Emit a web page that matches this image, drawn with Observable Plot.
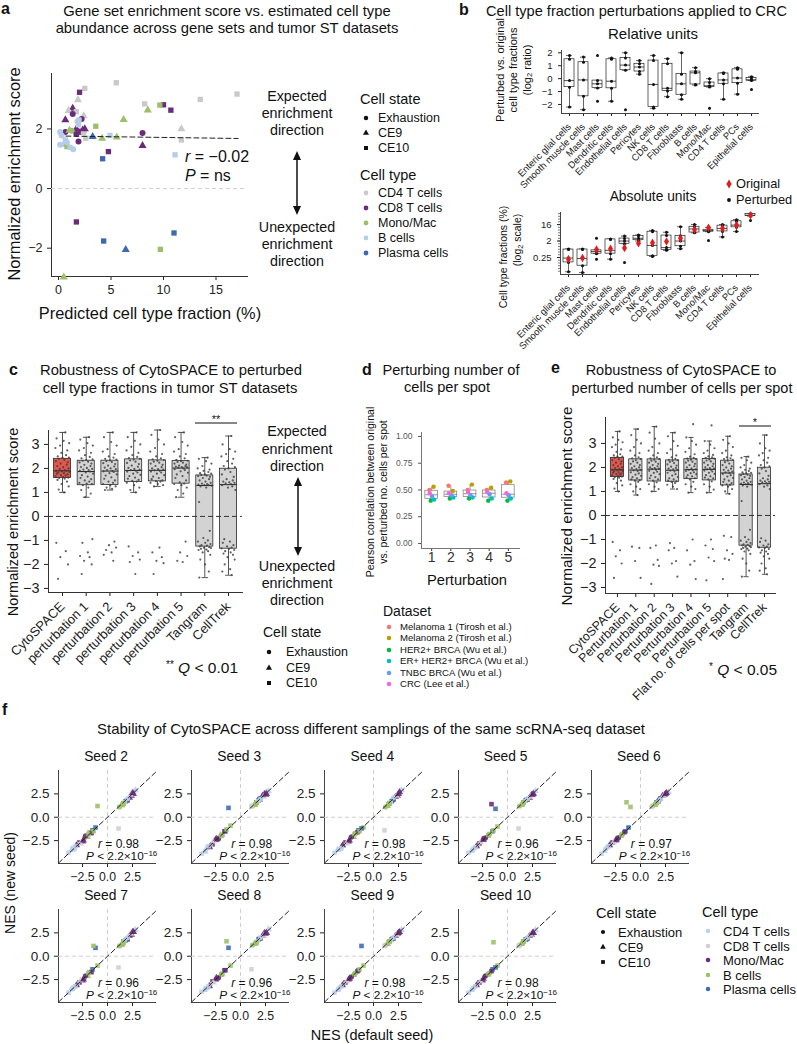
<!DOCTYPE html>
<html><head><meta charset="utf-8">
<script src="https://cdn.jsdelivr.net/npm/d3@7"></script>
<script src="https://cdn.jsdelivr.net/npm/@observablehq/plot@0.6"></script>
<style>
body{margin:0;background:#fff;}
#root{position:relative;width:797px;height:1044px;overflow:hidden;font-family:"Liberation Sans",Arial,Helvetica,sans-serif;color:#111;background:#fff;}
.t{position:absolute;white-space:nowrap;line-height:1;}
sup{font-size:0.68em;vertical-align:0.55em;line-height:0;}
sub{font-size:0.7em;vertical-align:-0.25em;line-height:0;}
</style></head><body><div id="root"></div><script>
// ---------------- DATA ----------------
const stateNames = ["Exhaustion","CE9","CE10"];
const stateSymbols = ["circle","triangle","square"];

// Panel a
const aTypeNames = ["CD4 T cells","CD8 T cells","Mono/Mac","B cells","Plasma cells"];
const aColors = ["#c9c9c9","#6b2b7b","#9dbf69","#b5cde9","#3d68b2"];
const aFrac = [5.5,2.5,2.0,17.0,13.5,1.85,8.2,10.0,9.65,10.7,8.5,1.35,0.95,1.7,1.35,2.4,2.2,0.65,6.2,1.8,1.95,3.55,11.7,8.0,0.65,0.15,1.7,2.3,1.25,1.7,2.05,0.3,1.9,4.15,5.55,3.25,4.9,2.6,11.7,8.0,0.15,0.55,0.8,0.65,1.4,1.1,4.2,4.75,11.1,1.7,4.3,6.4,9.7,11.0,0.5,1.9,2.4,0.8,1.05,2.5];
const aNES = [3.55,3.36,3.23,3.17,2.99,2.97,2.84,2.81,2.8,2.63,2.63,2.69,2.61,2.58,2.5,2.44,2.33,2.3,2.31,2.25,2.3,2.09,2.0,1.86,1.9,1.9,2.0,1.96,1.94,1.83,1.88,1.78,1.58,1.68,1.72,1.74,1.78,1.69,1.63,1.44,1.47,1.49,1.41,1.63,1.32,1.38,1.0,1.24,1.13,-1.12,-1.76,-2.05,-2.04,-1.49,-2.97,2.14,1.88,1.55,1.95,2.0];
const aType = [0,0,1,0,0,0,0,1,2,1,2,1,0,0,1,0,1,1,2,0,3,2,0,1,1,3,1,1,2,1,1,3,1,2,2,4,3,0,0,1,3,3,2,3,3,3,4,1,3,1,4,4,2,4,2,3,0,3,2,1];
const aState = [2,2,2,2,2,1,2,2,2,2,1,1,1,2,0,1,0,1,1,0,2,2,1,0,0,0,1,1,0,0,1,0,0,1,1,1,2,2,2,1,0,0,2,2,0,2,2,2,2,2,2,1,2,2,1,2,0,0,1,1];
const aFitX = [0.7,17.1];
const aFitY = [1.76,1.68];
const aXTicks = [0,5,10,15];
const aYTicks = [-2,0,2];

// Panel b
const bCats = ["Enteric glial cells","Smooth muscle cells","Mast cells","Dendritic cells","Endothelial cells","Pericytes","NK cells","CD8 T cells","Fibroblasts","B cells","Mono/Mac","CD4 T cells","PCs","Epithelial cells"];
const bRel = [
 [1.8,1.5,-0.15,-0.66,-2.2],[1.67,1.27,-0.1,-1.37,-2.4],[1.8,-0.15,-0.4,-0.73,-1.75],[1.6,1.5,-0.2,-0.75,-1.75],
 [2.0,1.6,1.05,0.65,-2.4],[1.4,1.15,0.9,0.55,0.35],[1.8,1.4,-0.45,-2.2,-2.3],[1.55,1.15,-0.75,-0.95,-1.4],
 [2.0,0.35,-0.4,-1.25,-1.6],[0.85,0.55,0.45,-0.45,-0.5],[0.0,-0.3,-0.55,-0.65,-2.3],[0.45,0.4,-0.1,-0.4,-1.6],
 [0.85,0.72,0.05,-0.35,-1.2],[0.15,0.05,-0.1,-0.15,-0.85]];
const bRelTicks = [-2,-1,0,1,2];
// absolute units, log2 of percent
const bAbsLog2 = [
 [-0.45,-0.55,-2.1,-2.9,-4.6],[-0.45,-0.55,-2.2,-3.5,-4.75],[1.5,-0.7,-0.9,-1.3,-2.3],[1.35,1.3,-0.7,-1.3,-2.3],
 [1.9,1.45,1.0,0.5,-2.9],[2.1,1.95,1.5,1.15,1.0],[2.9,2.7,0.2,-1.7,-1.8],[2.6,2.0,-0.2,-0.6,-0.7],
 [3.6,1.95,1.0,0.05,-0.4],[4.0,3.6,3.2,2.55,2.5],[3.5,3.05,2.9,2.7,1.1],[4.0,3.8,3.3,2.75,1.75],
 [4.9,4.6,3.9,3.5,2.75],[6.0,5.9,5.7,5.55,4.75]];
const bAbsOrigLog2 = [-2.3,-2.1,-0.55,-0.4,-0.25,0.6,0.7,0.9,1.5,3.05,3.4,3.3,3.9,5.7];
const bAbsTicks = [0.25,2,16];
const bAbsMinor = [0.044,0.0625,0.088,0.125,0.177,0.25,0.354,0.5,0.707,1,1.41,2,2.83,4,5.66,8,11.3,16,22.6,32,45.3,64];

// Panels c & e (normalized enrichment scores per method)
const cytoVals = [3.5,3.25,3.15,3.05,2.95,2.85,2.75,2.65,2.55,2.5,2.45,2.45,2.4,2.35,2.3,2.25,2.2,2.15,2.1,2.05,2.0,1.97,1.93,1.9,1.9,1.88,1.85,1.83,1.8,1.78,1.75,1.72,1.7,1.67,1.64,1.62,1.6,1.57,1.52,1.45,1.35,1.25,1.12,1.0,-1.1,-1.45,-1.7,-2.0,-2.6];
const tangramVals = [2.45,2.4,2.3,2.2,2.1,2.0,1.95,1.9,1.85,1.8,1.78,1.75,1.73,1.7,1.68,1.65,1.6,1.55,1.5,1.45,1.4,1.37,1.35,1.33,1.3,1.3,1.28,1.25,1.2,0.6,-0.6,-0.9,-1.0,-1.05,-1.1,-1.15,-1.2,-1.22,-1.25,-1.28,-1.3,-1.32,-1.35,-1.38,-1.4,-1.45,-1.5,-1.6,-1.8,-2.0,-2.3,-2.55];
const celltrekVals = [3.35,3.0,2.8,2.7,2.6,2.5,2.4,2.3,2.2,2.1,2.05,2.0,1.95,1.85,1.75,1.65,1.55,1.5,1.45,1.42,1.4,1.38,1.35,1.3,1.25,1.2,1.1,-0.95,-1.05,-1.1,-1.2,-1.25,-1.3,-1.33,-1.35,-1.4,-1.45,-1.5,-1.55,-1.6,-1.7,-1.8,-2.0,-2.2,-2.3,-2.45];
const cP1 = [3.3,3.2,3.05,2.95,2.85,2.75,2.65,2.55,2.48,2.42,2.38,2.35,2.32,2.28,2.25,2.2,2.15,2.1,2.06,2.02,1.98,1.95,1.93,1.9,1.87,1.83,1.78,1.72,1.66,1.6,1.55,1.5,1.45,1.4,1.37,1.35,1.3,1.2,1.1,0.95,0.8,-0.95,-1.1,-1.5,-1.65,-1.7,-1.85,-2.0,-2.4];
const cP2 = [3.5,3.3,3.1,2.95,2.8,2.7,2.6,2.5,2.45,2.4,2.37,2.33,2.3,2.27,2.22,2.18,2.12,2.08,2.03,2.0,1.97,1.93,1.9,1.88,1.85,1.8,1.75,1.7,1.63,1.57,1.5,1.45,1.4,1.35,1.3,1.25,1.2,1.15,1.1,-1.05,-1.2,-1.3,-1.4,-1.5,-1.6,-1.85];
const cP3 = [3.5,3.3,3.15,3.0,2.9,2.75,2.65,2.55,2.48,2.43,2.4,2.37,2.33,2.28,2.23,2.18,2.12,2.07,2.02,1.98,1.95,1.93,1.9,1.87,1.83,1.78,1.73,1.68,1.62,1.57,1.52,1.48,1.45,1.4,1.3,1.2,1.1,1.0,-1.25,-1.5,-1.65,-1.8,-1.9,-2.4];
const cP4 = [3.6,3.4,3.2,3.0,2.85,2.7,2.6,2.5,2.42,2.38,2.35,2.32,2.28,2.24,2.2,2.15,2.1,2.05,2.0,1.97,1.95,1.92,1.9,1.87,1.83,1.78,1.72,1.66,1.6,1.55,1.5,1.47,1.45,1.4,1.35,1.3,1.25,-1.3,-1.5,-1.7,-1.85,-1.95,-2.4];
const cP5 = [3.5,3.3,3.1,2.95,2.8,2.7,2.6,2.5,2.42,2.36,2.32,2.3,2.27,2.24,2.2,2.16,2.12,2.1,2.08,2.06,2.05,2.03,2.0,1.97,1.93,1.88,1.82,1.75,1.68,1.6,1.5,1.42,1.37,1.35,1.3,1.2,1.1,0.95,0.8,-1.05,-1.5,-1.65,-1.85,-1.9];
const eP1 = [3.6,3.35,3.15,3.0,2.85,2.7,2.6,2.5,2.42,2.38,2.35,2.3,2.25,2.2,2.15,2.1,2.05,2.0,1.97,1.93,1.9,1.88,1.85,1.8,1.75,1.7,1.65,1.6,1.55,1.5,1.47,1.45,1.4,1.3,1.2,1.1,1.0,0.85,-1.3,-1.35,-1.9,-2.6];
const eP2 = [3.7,3.45,3.2,3.0,2.85,2.7,2.6,2.5,2.42,2.38,2.35,2.32,2.28,2.24,2.2,2.15,2.1,2.05,2.0,1.97,1.95,1.93,1.9,1.86,1.82,1.77,1.72,1.66,1.6,1.55,1.5,1.45,1.38,1.3,1.2,1.1,1.0,-1.25,-1.35,-1.85,-2.05,-2.1,-2.85];
const eP3 = [3.45,3.3,3.1,2.9,2.75,2.6,2.5,2.42,2.36,2.32,2.3,2.27,2.23,2.18,2.13,2.08,2.03,1.98,1.95,1.92,1.9,1.87,1.83,1.78,1.72,1.66,1.6,1.55,1.5,1.45,1.42,1.4,1.35,1.28,1.2,1.1,-1.15,-1.35,-1.45,-1.9,-2.0,-2.55];
const eP4 = [3.8,3.25,3.1,2.95,2.8,2.65,2.55,2.45,2.4,2.37,2.35,2.32,2.28,2.24,2.2,2.15,2.1,2.05,2.0,1.96,1.92,1.9,1.88,1.85,1.8,1.76,1.72,1.68,1.63,1.58,1.55,1.5,1.4,1.3,1.2,1.1,0.95,-1.0,-1.45,-1.9,-2.05,-2.65];
const eP5 = [3.75,3.1,2.95,2.8,2.7,2.6,2.52,2.46,2.42,2.4,2.37,2.33,2.29,2.25,2.2,2.15,2.1,2.05,2.0,1.97,1.95,1.92,1.9,1.87,1.83,1.78,1.73,1.68,1.63,1.58,1.55,1.5,1.42,1.3,1.2,1.08,0.95,-1.0,-1.25,-1.4,-1.75,-1.9,-2.7];
const eFlat = [3.3,3.15,3.0,2.85,2.7,2.6,2.5,2.42,2.38,2.35,2.32,2.28,2.22,2.16,2.1,2.05,2.0,1.95,1.9,1.87,1.83,1.8,1.77,1.73,1.68,1.62,1.56,1.5,1.45,1.4,1.35,1.3,1.27,1.25,1.2,1.1,1.0,0.9,-0.85,-0.9,-1.45,-1.6,-1.8,-1.85,-2.65];
const jitter = [0.12,-0.25,0.05,0.28,-0.1,-0.3,0.2,-0.05,0.15,-0.2,0.27,0.0,-0.15,0.08,-0.28,0.22,-0.08,0.18,-0.22,0.03,0.25,-0.12,0.1,-0.27,0.16,-0.02,0.29,-0.18,0.06,-0.24,0.21,-0.06,0.13,-0.29,0.02,0.24,-0.14,0.09,-0.21,0.19,-0.04,0.26,-0.16,0.07,-0.26,0.14,-0.09,0.23,-0.19,0.01,0.17,-0.23,0.11,-0.11];
const cNames = ["CytoSPACE","perturbation 1","perturbation 2","perturbation 3","perturbation 4","perturbation 5","Tangram","CellTrek"];
const eNames = ["CytoSPACE","Perturbation 1","Perturbation 2","Perturbation 3","Perturbation 4","Perturbation 5","Flat no. of cells per spot","Tangram","CellTrek"];
const nesTicks = [-3,-2,-1,0,1,2,3];

// Panel d
const dDatasets = ["Melanoma 1 (Tirosh et al.)","Melanoma 2 (Tirosh et al.)","HER2+ BRCA (Wu et al.)","ER+ HER2+ BRCA (Wu et al.)","TNBC BRCA (Wu et al.)","CRC (Lee et al.)"];
const dColors = ["#F8766D","#B79F00","#00BA38","#00BFC4","#619CFF","#F564E3"];
const dVals = [
 [0.50,0.53,0.40,0.41,0.44,0.47],
 [0.54,0.49,0.42,0.43,0.45,0.47],
 [0.50,0.55,0.42,0.43,0.45,0.48],
 [0.50,0.52,0.40,0.42,0.46,0.48],
 [0.57,0.58,0.40,0.42,0.45,0.47]];
const dJitter = [-0.12,0.1,-0.05,0.13,0.02,-0.1];
const dYTicks = [0,0.25,0.5,0.75,1];
const dXTicks = [1,2,3,4,5];

// Panel f
const fTypeNames = ["CD4 T cells","CD8 T cells","Mono/Mac","B cells","Plasma cells"];
const fColors = ["#bcd2ea","#d0d0d0","#6b2b7b","#9dc06b","#3e6db4"];
const fX = [2.8,2.6,2.4,2.2,2.6,2.0,1.8,1.6,1.9,1.5,1.4,1.7,2.3,1.2,2.0,1.1,-1.0,-1.2,-1.5,-1.8,-2.0,-2.3,-2.5,-2.8,-2.2,-3.0,-3.3,-3.6,-3.9,-2.7,-1.6,-3.1,-1.4,-3.5,-3.2,2.5,-2.4,-1.9,1.6];
const fType = [0,0,2,2,2,2,4,4,4,3,3,1,1,3,0,1,3,4,4,3,3,3,2,2,2,1,0,0,0,1,2,2,3,0,0,2,2,3,3];
const fState = [1,1,1,1,1,2,2,2,0,2,1,0,1,0,0,2,2,2,2,2,1,0,1,2,0,2,0,1,2,1,2,1,2,0,2,1,1,2,2];
const fSeeds = ["Seed 2","Seed 3","Seed 4","Seed 5","Seed 6","Seed 7","Seed 8","Seed 9","Seed 10"];
const fR = ["0.98","0.98","0.98","0.96","0.97","0.96","0.96","0.98","0.98"];
const fY = [
 [2.9,2.7,2.3,2.1,2.5,1.8,1.7,1.5,1.8,1.3,1.3,1.6,2.4,1.1,2.0,-1.2,1.2,-1.1,-1.4,-1.6,-2.1,-2.2,-2.6,-2.7,-2.0,-2.9,-3.4,-3.5,-3.8,-2.8,-1.7,-3.0,-1.5,-3.3,-3.1,2.6,-2.5,-1.8,1.5],
 [2.8,2.7,2.5,2.3,2.5,1.9,1.8,1.6,2.0,1.4,1.3,1.7,2.2,1.2,1.9,1.2,-0.9,1.0,-1.5,-1.9,-1.9,-2.4,-2.4,-2.9,-2.3,-3.1,-3.2,-3.7,-3.9,-2.6,-1.5,-3.2,-1.3,-3.6,-3.1,2.4,-2.3,-2.0,1.5],
 [2.9,2.6,2.3,2.2,2.7,1.9,1.7,1.5,1.8,1.4,1.2,1.6,2.3,1.1,2.1,-1.4,-1.1,-1.2,-1.4,-1.7,-2.1,-2.2,-2.6,-2.7,-2.1,-3.0,-3.4,-3.5,-3.8,-2.8,-1.6,-3.0,-1.5,-3.4,-3.3,2.5,-2.5,-1.8,1.5],
 [2.8,2.6,2.4,2.1,2.5,1.9,1.8,1.6,1.9,1.4,1.3,1.7,2.2,1.2,2.0,-1.2,-1.0,0.9,-1.5,-1.8,-2.0,-2.3,-2.4,-2.8,-2.2,-3.1,-3.3,-3.6,-3.8,-2.7,1.4,-3.1,-1.4,-3.5,-3.2,2.4,-2.4,-1.9,1.6],
 [2.7,2.6,2.4,2.3,2.6,2.0,1.7,1.6,1.9,1.4,1.3,1.6,2.3,1.2,1.9,1.1,1.1,-1.1,-1.5,-1.8,-2.0,-2.2,-2.5,-2.7,-2.2,-3.0,-3.2,-3.6,-3.9,-2.7,-1.6,-3.0,1.6,-3.4,-3.1,2.5,-2.4,-1.9,1.5],
 [2.8,2.7,2.3,2.2,2.6,1.8,1.7,1.6,1.8,1.3,1.2,1.7,2.4,1.1,2.0,-1.2,-1.0,0.9,-1.4,-1.7,-2.1,-2.3,-2.6,-2.8,-2.1,-3.0,-3.3,-3.5,-3.9,-2.6,-1.7,-3.1,1.1,-3.5,-3.2,2.6,-2.5,-1.8,1.4],
 [2.9,2.6,2.5,2.2,2.5,1.9,1.8,1.5,1.9,1.4,1.3,1.6,2.2,1.2,2.0,-1.4,-1.0,0.9,-1.5,-1.9,-2.0,-2.4,-2.5,-2.7,-2.3,-3.0,-3.4,-3.6,-3.8,-2.8,-1.5,-3.2,1.6,-3.4,-3.2,2.4,-2.3,-1.9,1.5],
 [2.8,2.6,2.4,2.2,2.6,1.9,1.8,1.6,1.9,1.5,1.3,1.7,2.3,1.2,2.0,1.1,-1.0,1.1,-1.5,-1.8,-2.0,-2.3,-2.5,-2.8,-2.2,-3.0,-3.3,-3.6,-3.9,-2.7,-1.6,-3.1,-1.4,-3.5,-3.2,2.5,-2.4,-1.9,1.6],
 [2.8,2.6,2.3,2.2,2.5,1.9,1.8,1.6,1.8,1.4,1.3,1.7,2.3,1.2,2.0,1.1,-1.0,-1.2,-1.4,-1.8,-2.0,-2.2,-2.6,-2.8,-2.1,-3.0,-3.3,-3.6,-3.9,-2.7,-1.6,-3.1,1.5,-3.5,-3.2,2.5,-2.4,-1.9,1.6]];
const fTicks = [-2.5,0,2.5];
const fDomain = [-4.9,4.8];

// ---------------- HELPERS ----------------
const FONT = "'Liberation Sans', Arial, Helvetica, sans-serif";
const fmtInt = d3.format("d");
const root = document.getElementById("root");
function put(el, x, y){ el.style.position="absolute"; el.style.left=x+"px"; el.style.top=y+"px"; root.appendChild(el); }
function txt(s, x, y, o={}){
  const d=document.createElement("div"); d.className="t"; d.innerHTML=s;
  d.style.left=x+"px"; d.style.top=y+"px"; d.style.fontSize=(o.size||14)+"px";
  if(o.bold) d.style.fontWeight="bold"; if(o.color) d.style.color=o.color;
  const ax = o.anchor==="start"?"0%":o.anchor==="end"?"-100%":"-50%";
  d.style.transform=`translate(${ax},-50%)`+(o.rotate?` rotate(${o.rotate}deg)`:"");
  root.appendChild(d);
}
const symMap = {circle:d3.symbolCircle, triangle:d3.symbolTriangle, square:d3.symbolSquare, diamond:d3.symbolDiamond};
function sym(type, x, y, color, size){
  const s=d3.create("svg").attr("width",14).attr("height",14).style("position","absolute").style("left",(x-7)+"px").style("top",(y-7)+"px");
  s.append("path").attr("transform","translate(7,7)").attr("d",d3.symbol(symMap[type],size)()).attr("fill",color);
  root.appendChild(s.node());
}
const stats = vals => {
  const s = vals.slice().sort(d3.ascending);
  const q1=d3.quantileSorted(s,0.25), med=d3.quantileSorted(s,0.5), q3=d3.quantileSorted(s,0.75), iqr=q3-q1;
  return {q1, med, q3, lo:d3.min(s.filter(v=>v>=q1-1.5*iqr)), hi:d3.max(s.filter(v=>v<=q3+1.5*iqr))};
};
function boxMarks(st, o){
  const m = [
    Plot.ruleX(st,{x:"i", y1:"lo", y2:"q1", stroke:o.stroke, strokeWidth:o.sw}),
    Plot.ruleX(st,{x:"i", y1:"q3", y2:"hi", stroke:o.stroke, strokeWidth:o.sw})];
  if(o.cap){
    m.push(Plot.link(st,{x1:d=>d.i-o.cap, x2:d=>d.i+o.cap, y1:"lo", y2:"lo", stroke:o.stroke, strokeWidth:o.sw}));
    m.push(Plot.link(st,{x1:d=>d.i-o.cap, x2:d=>d.i+o.cap, y1:"hi", y2:"hi", stroke:o.stroke, strokeWidth:o.sw}));
  }
  m.push(Plot.rect(st,{x1:d=>d.i-o.hw, x2:d=>d.i+o.hw, y1:"q1", y2:"q3", fill:"fill", stroke:o.stroke, strokeWidth:o.sw}));
  m.push(Plot.link(st,{x1:d=>d.i-o.hw, x2:d=>d.i+o.hw, y1:"med", y2:"med", stroke:o.stroke, strokeWidth:o.sw*1.3}));
  return m;
}
const baseStyle = (fs, color="#222") => ({fontFamily:FONT, fontSize:fs+"px", color, background:"none", overflow:"visible"});
const ov = d3.create("svg").attr("width",797).attr("height",1044).style("position","absolute").style("left","0").style("top","0").style("pointer-events","none");
function arrow(x,y1,y2){
  ov.append("line").attr("x1",x).attr("x2",x).attr("y1",y1+5).attr("y2",y2-5).attr("stroke","#111").attr("stroke-width",1.5);
  ov.append("path").attr("d",`M${x-4},${y1+9}L${x},${y1}L${x+4},${y1+9}Z`).attr("fill","#111");
  ov.append("path").attr("d",`M${x-4},${y2-9}L${x},${y2}L${x+4},${y2-9}Z`).attr("fill","#111");
}
function hline(x1,x2,y){ ov.append("line").attr("x1",x1).attr("x2",x2).attr("y1",y).attr("y2",y).attr("stroke","#111").attr("stroke-width",1); }

// ---------------- PANEL A ----------------
const aData = aFrac.map((v,i)=>({x:v, y:aNES[i], type:aTypeNames[aType[i]], state:stateNames[aState[i]]}));
const aFit = aFitX.map((v,i)=>({x:v, y:aFitY[i]}));
put(Plot.plot({
  width:260, height:240, marginLeft:51, marginRight:13, marginTop:13, marginBottom:24,
  style:baseStyle(12.5), x:{domain:[-0.67,18], label:null}, y:{domain:[-2.95,3.86], label:null},
  color:{domain:aTypeNames, range:aColors}, symbol:{domain:stateNames, range:stateSymbols},
  marks:[
    Plot.axisX({ticks:aXTicks, tickFormat:fmtInt, tickSize:4, fontSize:12.5}),
    Plot.axisY({ticks:aYTicks, tickFormat:fmtInt, tickSize:4, fontSize:12.5}),
    Plot.frame({anchor:"left", stroke:"#333"}), Plot.frame({anchor:"bottom", stroke:"#333"}),
    Plot.ruleY([0],{stroke:"#cfcfcf", strokeDasharray:"4,3"}),
    Plot.dot(aData,{x:"x", y:"y", fill:"type", symbol:"state", r:3}),
    Plot.line(aFit,{x:"x", y:"y", stroke:"#222", strokeDasharray:"5,3", strokeWidth:1})
  ]}), 0, 60);
txt("a", 1, 9, {bold:true, size:16, anchor:"start"});
txt("Gene set enrichment score vs. estimated cell type", 227, 11, {size:14.8});
txt("abundance across gene sets and tumor ST datasets", 227, 28, {size:14.8});
txt("Normalized enrichment score", 14, 174, {size:16.4, rotate:-90});
txt("Predicted cell type fraction (%)", 150, 313, {size:16.4});
txt("<i>r</i> = −0.02", 185, 157, {size:16, anchor:"start"});
txt("<i>P</i> = ns", 185, 176, {size:16, anchor:"start"});
["Expected","enrichment","direction"].forEach((s,i)=>txt(s, 297, 96+17*i, {size:14.3}));
arrow(297, 151, 215);
["Unexpected","enrichment","direction"].forEach((s,i)=>txt(s, 297, 227+17*i, {size:14.3}));
txt("Cell state", 360, 99, {size:14.5, anchor:"start"});
stateNames.forEach((s,i)=>{ sym(stateSymbols[i], 366, 118+15*i, "#111", 16); txt(s, 378, 118+15*i, {size:12.5, anchor:"start"}); });
txt("Cell type", 360, 175, {size:14.5, anchor:"start"});
aTypeNames.forEach((s,i)=>{ sym("circle", 366, 193+15*i, aColors[i], 18); txt(s, 378, 193+15*i, {size:12.5, anchor:"start"}); });

// ---------------- PANEL B ----------------
const bRelData = bCats.flatMap((c,i)=>bRel[i].map(v=>({cat:c, v})));
const bRelStats = bCats.map((c,i)=>({cat:c, ...stats(bRel[i])}));
const bX = {domain:bCats, type:"band", paddingInner:0.3, paddingOuter:0.15, label:null};
function bBoxes(st){
  return [
    Plot.ruleX(st,{x:"cat", y1:"lo", y2:"hi", stroke:"#222", strokeWidth:0.7}),
    Plot.tickY(st,{x:"cat", y:"lo", stroke:"#222", strokeWidth:0.7, inset:2}),
    Plot.tickY(st,{x:"cat", y:"hi", stroke:"#222", strokeWidth:0.7, inset:2}),
    Plot.barY(st,{x:"cat", y1:"q1", y2:"q3", fill:"white", stroke:"#222", strokeWidth:0.7}),
    Plot.tickY(st,{x:"cat", y:"med", stroke:"#222", strokeWidth:0.8})];
}
put(Plot.plot({
  width:330, height:150, marginLeft:121, marginRight:12, marginTop:10, marginBottom:77,
  style:baseStyle(9), x:bX, y:{domain:[-2.7,2.18], label:null},
  marks:[
    Plot.axisX({tickRotate:-45, tickSize:3, fontSize:9.5}),
    Plot.axisY({ticks:bRelTicks, tickFormat:fmtInt, tickSize:3, fontSize:9.5}),
    Plot.frame({anchor:"left", stroke:"#444"}), Plot.frame({anchor:"bottom", stroke:"#444"}),
    ...bBoxes(bRelStats),
    Plot.dot(bRelData,{x:"cat", y:"v", r:1.5, fill:"#111"})
  ]}), 440, 40);
const bAbsData = bCats.flatMap((c,i)=>bAbsLog2[i].map(v=>({cat:c, v:2**v})));
const bAbsStats = bCats.map((c,i)=>{ const s=stats(bAbsLog2[i]); return {cat:c, q1:2**s.q1, med:2**s.med, q3:2**s.q3, lo:2**s.lo, hi:2**s.hi}; });
const bAbsOrig = bCats.map((c,i)=>({cat:c, v:2**bAbsOrigLog2[i]}));
put(Plot.plot({
  width:330, height:130, marginLeft:120, marginRight:12, marginTop:7, marginBottom:61,
  style:baseStyle(9), x:bX, y:{type:"log", base:2, domain:[2**-5.1, 2**6.2], label:null},
  marks:[
    Plot.axisX({tickRotate:-45, tickSize:3, fontSize:9.5}),
    Plot.axisY({ticks:bAbsMinor, tickSize:2, tickFormat:()=>"", strokeWidth:0.6}),
    Plot.axisY({ticks:bAbsTicks, tickSize:3, tickFormat:d=>String(d), fontSize:9.5}),
    Plot.frame({anchor:"left", stroke:"#444"}), Plot.frame({anchor:"bottom", stroke:"#444"}),
    ...bBoxes(bAbsStats),
    Plot.dot(bAbsData,{x:"cat", y:"v", r:1.5, fill:"#111"}),
    Plot.dot(bAbsOrig,{x:"cat", y:"v", r:2.6, symbol:"diamond", fill:"#e41a1c"})
  ]}), 440, 205);
txt("b", 459, 10, {bold:true, size:16, anchor:"start"});
txt("Cell type fraction perturbations applied to CRC", 486, 11, {size:14.6, anchor:"start"});
txt("Relative units", 653, 33, {size:15});
txt("Perturbed vs. original", 500, 70, {size:11, rotate:-90});
txt("cell type fractions", 513, 70, {size:11, rotate:-90});
txt("(log<sub>2</sub> ratio)", 527, 70, {size:11, rotate:-90});
txt("Absolute units", 653, 197, {size:13.8});
sym("diamond", 729, 184, "#e41a1c", 24); txt("Original", 736, 184, {size:12.8, anchor:"start"});
sym("circle", 729, 200, "#111", 12); txt("Perturbed", 736, 200, {size:12.8, anchor:"start"});
txt("Cell type fractions (%)", 503, 257, {size:10.5, rotate:-90});
txt("(log<sub>2</sub> scale)", 517, 240, {size:10.5, rotate:-90});

// ---------------- PANELS C & E ----------------
function nesPanel(groups, names, o){
  const pts = groups.flatMap((g,i)=>g.map((v,j)=>({x:i+1+jitter[j%jitter.length], y:v})));
  const st = groups.map((g,i)=>({i:i+1, fill:i===0?"#e0574d":"#d3d3d3", ...stats(g)}));
  return Plot.plot({
    width:o.width, height:o.height, marginLeft:o.ml, marginRight:o.mr, marginTop:o.mt, marginBottom:o.mb,
    style:baseStyle(12), x:{domain:o.xd, label:null}, y:{domain:o.yd, label:null}, color:{type:"identity"},
    marks:[
      Plot.axisX({ticks:names.map((d,i)=>i+1), tickFormat:i=>names[i-1], tickRotate:-45, tickSize:4, fontSize:o.xfs}),
      Plot.axisY({ticks:nesTicks, tickFormat:fmtInt, tickSize:4, fontSize:14.4}),
      Plot.frame({anchor:"left", stroke:"#333"}), Plot.frame({anchor:"bottom", stroke:"#333"}),
      ...boxMarks(st,{stroke:"#2a2a2a", sw:0.8, hw:0.36, cap:0.14}),
      Plot.ruleY([0],{stroke:"#333", strokeDasharray:"5,3"}),
      Plot.dot(pts,{x:"x", y:"y", r:1.1, fill:"#3a3a3a", fillOpacity:0.8})
    ]});
}
put(nesPanel([cytoVals,cP1,cP2,cP3,cP4,cP5,tangramVals,celltrekVals], cNames,
  {width:250, height:250, ml:48, mr:8, mt:10, mb:78, xd:[0.41,8.59], yd:[-3.17,3.58], xfs:13}), 0, 420);
txt("c", 9, 370, {bold:true, size:16, anchor:"start"});
txt("Robustness of CytoSPACE to perturbed", 171, 370, {size:14.8});
txt("cell type fractions in tumor ST datasets", 170, 388, {size:14.8});
txt("Normalized enrichment score", 13, 522, {size:14.5, rotate:-90});
hline(195, 237, 423); txt("**", 216, 419, {size:11});
txt("<span style='font-size:10px;position:relative;top:-5px'>**</span> <i>Q</i> &lt; 0.01", 166, 668, {size:15.5, anchor:"start"});
["Expected","enrichment","direction"].forEach((s,i)=>txt(s, 297, 431+17.5*i, {size:14.3}));
arrow(298, 477, 556);
["Unexpected","enrichment","direction"].forEach((s,i)=>txt(s, 297, 566+17*i, {size:14.3}));
txt("Cell state", 263, 632, {size:14, anchor:"start"});
stateNames.forEach((s,i)=>{ sym(stateSymbols[i], 269, 652+15.5*i, "#111", 16); txt(s, 286, 652+15.5*i, {size:12.5, anchor:"start"}); });

put(nesPanel([cytoVals,eP1,eP2,eP3,eP4,eP5,eFlat,tangramVals,celltrekVals], eNames,
  {width:230, height:300, ml:45, mr:15, mt:10, mb:114, xd:[0.35,9.6], yd:[-3.25,4.08], xfs:12.4}), 560, 407);
txt("e", 551, 368, {bold:true, size:16, anchor:"start"});
txt("Robustness of CytoSPACE to", 681, 370, {size:14.5});
txt("perturbed number of cells per spot", 682, 388, {size:14.5});
txt("Normalized enrichment score", 567, 506, {size:15.3, rotate:-90});
hline(739, 771, 426); txt("*", 755, 422, {size:11});
txt("<span style='font-size:10px;position:relative;top:-5px'>*</span> <i>Q</i> &lt; 0.05", 709, 670, {size:15.5, anchor:"start"});

// ---------------- PANEL D ----------------
const dPts = dVals.flatMap((g,i)=>g.map((v,j)=>({x:i+1+dJitter[j], y:v, ds:dDatasets[j]})));
const dStats = dVals.map((g,i)=>({i:i+1, fill:"white", ...stats(g)}));
put(Plot.plot({
  width:130, height:150, marginLeft:26, marginRight:6, marginTop:10, marginBottom:24,
  style:baseStyle(9,"#555"), x:{domain:[0.47,5.58], label:null}, y:{domain:[-0.047,1.037], label:null},
  color:{domain:dDatasets, range:dColors},
  marks:[
    Plot.axisY({ticks:dYTicks, tickFormat:d3.format(".2f"), tickSize:3, fontSize:8.5, color:"#555"}),
    Plot.axisX({ticks:dXTicks, tickFormat:fmtInt, tickSize:3, tickPadding:1, fontSize:14, color:"#333"}),
    Plot.frame({anchor:"left", stroke:"#777"}), Plot.frame({anchor:"bottom", stroke:"#777"}),
    Plot.ruleX(dStats,{x:"i", y1:"lo", y2:"hi", stroke:"#888", strokeWidth:0.8}),
    Plot.rect(dStats,{x1:d=>d.i-0.33, x2:d=>d.i+0.33, y1:"q1", y2:"q3", fill:"white", stroke:"#888", strokeWidth:0.8}),
    Plot.link(dStats,{x1:d=>d.i-0.33, x2:d=>d.i+0.33, y1:"med", y2:"med", stroke:"#888", strokeWidth:0.9}),
    Plot.dot(dPts,{x:"x", y:"y", fill:"ds", r:2.2})
  ]}), 395, 422);
txt("d", 362, 370, {bold:true, size:16, anchor:"start"});
txt("Perturbing number of", 451, 370, {size:14.6});
txt("cells per spot", 447, 387, {size:14.6});
txt("Pearson correlation between original", 370, 492, {size:10.5, rotate:-90});
txt("vs. perturbed no. cells per spot", 383, 492, {size:10.5, rotate:-90});
txt("Perturbation", 467, 580, {size:14.7});
txt("Dataset", 383, 611, {size:14, anchor:"start"});
dDatasets.forEach((s,i)=>{ sym("circle", 389, 627+11.4*i, dColors[i], 16); txt(s, 400, 627+11.4*i, {size:9.6, anchor:"start"}); });

// ---------------- PANEL F ----------------
fSeeds.forEach((seed,k)=>{
  const row = k<5?0:1, col = k<5?k:k-5;
  const x0 = 58 + 133.2*col, y0 = row ? 909 : 770;
  const data = fX.map((x,i)=>({x, y:fY[k][i], type:fTypeNames[fType[i]], state:stateNames[fState[i]]}));
  put(Plot.plot({
    width:150, height:125, marginLeft:45, marginRight:8, marginTop:10, marginBottom:22,
    style:baseStyle(13), x:{domain:fDomain, label:null}, y:{domain:[-4.95,5.0], label:null},
    color:{domain:fTypeNames, range:fColors}, symbol:{domain:stateNames, range:stateSymbols},
    marks:[
      Plot.axisX({ticks:fTicks, tickFormat:d3.format(".1f"), tickSize:4, fontSize:12.3}),
      Plot.axisY({ticks:fTicks, tickFormat:d3.format(".1f"), tickSize:4, fontSize:13.5}),
      Plot.frame({anchor:"left", stroke:"#444"}), Plot.frame({anchor:"bottom", stroke:"#444"}),
      Plot.ruleX([0],{stroke:"#cfcfcf", strokeDasharray:"4,3"}),
      Plot.ruleY([0],{stroke:"#cfcfcf", strokeDasharray:"4,3"}),
      Plot.dot(data,{x:"x", y:"y", fill:"type", symbol:"state", r:2.6, fillOpacity:0.9}),
      Plot.line(fDomain,{x:d=>d, y:d=>d, stroke:"#222", strokeDasharray:"5,3", strokeWidth:1})
    ]}), x0-45, y0-10);
  txt(seed, x0+48, y0-13, {size:13.8});
  txt(`<i>r</i> = ${fR[k]}`, x0+40, y0+74, {size:12, anchor:"start"});
  txt(`<i>P</i> &lt; 2.2×10<sup>−16</sup>`, x0+28, y0+87, {size:11.8, anchor:"start"});
});
txt("f", 2, 710, {bold:true, size:16, anchor:"start"});
txt("Stability of CytoSPACE across different samplings of the same scRNA-seq dataset", 371, 728, {size:15});
txt("NES (new seed)", 10, 883, {size:14, rotate:-90});
txt("NES (default seed)", 372, 1035, {size:14.5});
txt("Cell state", 596, 913, {size:14.5, anchor:"start"});
stateNames.forEach((s,i)=>{ sym(stateSymbols[i], 603, 932+15*i, "#111", 14); txt(s, 618, 932+15*i, {size:13, anchor:"start"}); });
txt("Cell type", 702, 912, {size:14.5, anchor:"start"});
fTypeNames.forEach((s,i)=>{ sym("circle", 708, 931+14.5*i, fColors[i], 16); txt(s, 723, 931+14.5*i, {size:13, anchor:"start"}); });

root.appendChild(ov.node());
</script></body></html>
